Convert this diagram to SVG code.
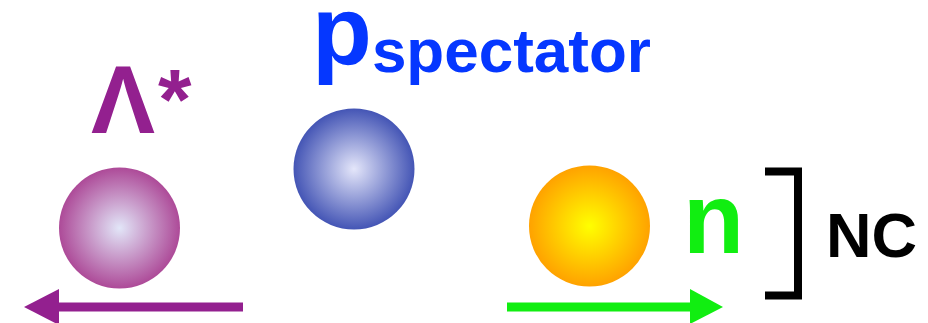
<svg xmlns="http://www.w3.org/2000/svg" width="928" height="323" viewBox="0 0 928 323">
<defs>
<radialGradient id="gL" cx="0.5" cy="0.5" r="0.5"><stop offset="0" stop-color="#e2e6f8"/><stop offset="1" stop-color="#ad4a98"/></radialGradient>
<radialGradient id="gP" cx="0.5" cy="0.5" r="0.5"><stop offset="0" stop-color="#e4e6fa"/><stop offset="1" stop-color="#4455b5"/></radialGradient>
<radialGradient id="gN" cx="0.5" cy="0.5" r="0.5"><stop offset="0" stop-color="#ffff00"/><stop offset="1" stop-color="#ffa200"/></radialGradient>
<style>
text{font-family:"Liberation Sans",Arial,sans-serif;font-weight:bold}
</style>
</defs>
<rect width="928" height="323" fill="#fff"/>
<g id="lambda">
<circle cx="119.5" cy="228" r="60.5" fill="url(#gL)"/>
<text x="91" y="133" font-size="96" fill="#93208f">Λ</text>
<text x="158" y="129" font-size="86" fill="#93208f">*</text>
</g>
<g id="proton">
<circle cx="354" cy="169" r="60.5" fill="url(#gP)"/>
<text x="312" y="65" font-size="98" fill="#0537ff">p<tspan font-size="62" dy="7">spectator</tspan></text>
</g>
<g id="neutron">
<circle cx="589.5" cy="226" r="60.5" fill="url(#gN)"/>
<text x="683" y="253" font-size="100" fill="#11ee11">n</text>
</g>
<g id="nc">
<path d="M765 171.5 H798 V295.5 H765" fill="none" stroke="#000" stroke-width="8"/>
<text x="826" y="257" font-size="63" fill="#000">NC</text>
</g>
<g id="connectors">
<line x1="243" y1="307" x2="55" y2="307" stroke="#93208f" stroke-width="9"/>
<polygon points="24,307 59,289 59,325" fill="#93208f"/>
<line x1="507" y1="307" x2="695" y2="307" stroke="#11ee11" stroke-width="9"/>
<polygon points="723,307 690,289 690,324" fill="#11ee11"/>
</g>
</svg>
